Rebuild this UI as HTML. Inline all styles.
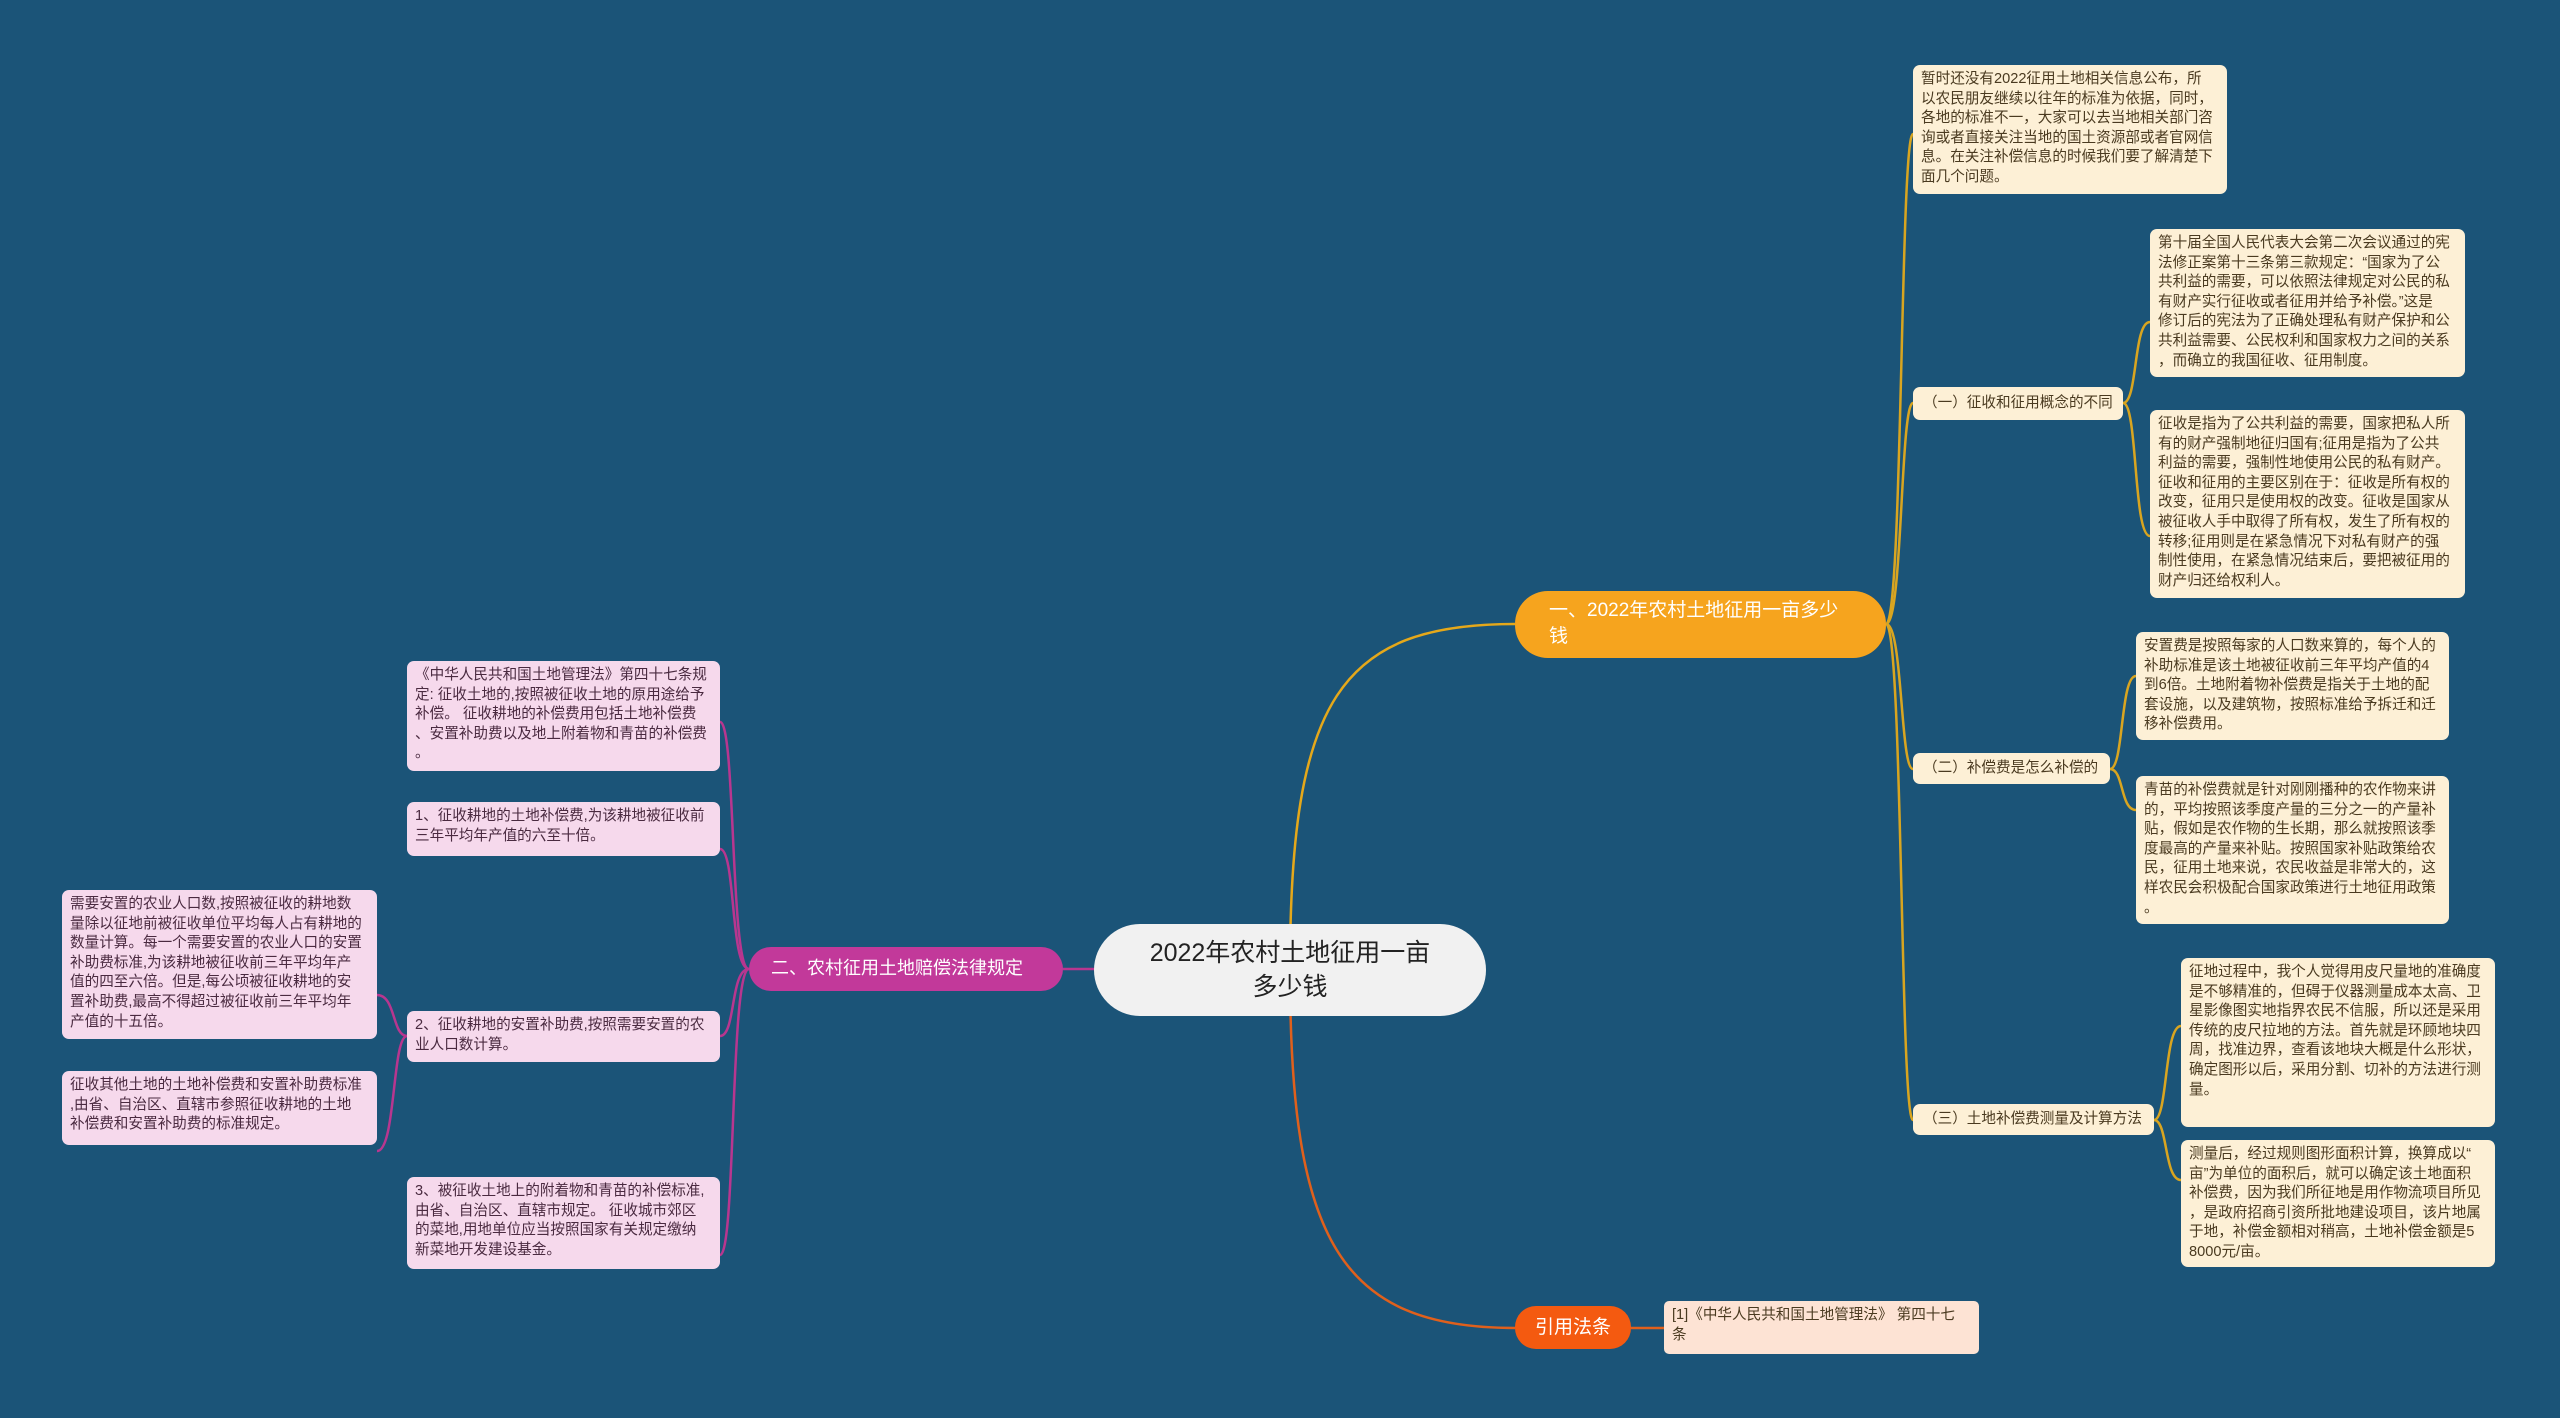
<!DOCTYPE html>
<html><head><meta charset="utf-8"><style>
body{margin:0;width:2560px;height:1418px;background:#1b5478;position:relative;overflow:hidden;font-family:"Liberation Sans","Noto Sans CJK SC",sans-serif}
.n{position:absolute;box-sizing:border-box;border-radius:7px;font-size:14.6px;line-height:19.6px;padding:5px 8px;color:#4a3a20;white-space:nowrap}
.c{background:#fdf0d6}
.p{background:#f6d9ec;color:#4a2a40}
.lab{display:flex;align-items:center;padding:0 10px}
svg{position:absolute;left:0;top:0}
</style></head><body>
<svg width="2560" height="1418" fill="none" stroke-width="2.5">
<path d="M1290 970 C1290 700 1340 624 1515 624" stroke="#e5a81a"/>
<path d="M1290 970 C1290 1240 1340 1328 1515 1328" stroke="#e0601c"/>
<path d="M1290 969 H1063" stroke="#b8368f"/>
<path d="M1631 1328 H1664" stroke="#e0601c"/>
<g stroke="#d9a520">
<path d="M1886 624 C1903 624 1900 134 1913 134"/>
<path d="M1886 624 C1903 624 1900 403 1913 403"/>
<path d="M1886 624 C1903 624 1900 769 1913 769"/>
<path d="M1886 624 C1903 624 1900 1120 1913 1120"/>
<path d="M2123 403 C2138 403 2133 322 2150 322"/>
<path d="M2123 403 C2138 403 2133 536 2150 536"/>
<path d="M2110 769 C2124 769 2120 676 2136 676"/>
<path d="M2110 769 C2124 769 2120 810 2136 810"/>
<path d="M2154 1120 C2168 1120 2164 1026 2181 1026"/>
<path d="M2154 1120 C2168 1120 2164 1180 2181 1180"/>
</g>
<g stroke="#b8368f">
<path d="M749 969 C730 969 736 722 720 722"/>
<path d="M749 969 C730 969 736 849 720 849"/>
<path d="M749 969 C730 969 736 1036 720 1036"/>
<path d="M749 969 C730 969 736 1255 720 1255"/>
<path d="M407 1036 C392 1036 396 995 377 995"/>
<path d="M407 1036 C392 1036 396 1151 377 1151"/>
</g>
</svg>

<div class="n" style="left:1094px;top:924px;width:392px;height:92px;border-radius:46px;background:#f1f1f1;color:#222;font-size:25px;line-height:34px;text-align:center;padding-top:12px">2022年农村土地征用一亩<br>多少钱</div>
<div class="n" style="left:1515px;top:591px;width:371px;height:67px;border-radius:33px;background:#f6a41e;color:#fff;font-size:19px;line-height:26px;padding:7px 34px">一、2022年农村土地征用一亩多少<br>钱</div>
<div class="n lab" style="left:749px;top:947px;width:314px;height:44px;border-radius:22px;background:#c2399a;color:#fff;font-size:18px;padding-left:22px">二、农村征用土地赔偿法律规定</div>
<div class="n lab" style="left:1515px;top:1306px;width:116px;height:43px;border-radius:21px;background:#f45a10;color:#fff;font-size:19px;justify-content:center">引用法条</div>
<div class="n" style="left:1664px;top:1301px;width:315px;height:53px;background:#fde3d4;border-radius:5px">[1]《中华人民共和国土地管理法》 第四十七<br>条</div>

<div class="n c" style="left:1913px;top:65px;width:314px;height:129px">暂时还没有2022征用土地相关信息公布，所<br>以农民朋友继续以往年的标准为依据，同时，<br>各地的标准不一，大家可以去当地相关部门咨<br>询或者直接关注当地的国土资源部或者官网信<br>息。在关注补偿信息的时候我们要了解清楚下<br>面几个问题。</div>
<div class="n c lab" style="left:1913px;top:387px;width:210px;height:33px">（一）征收和征用概念的不同</div>
<div class="n c" style="left:2150px;top:229px;width:315px;height:148px">第十届全国人民代表大会第二次会议通过的宪<br>法修正案第十三条第三款规定：“国家为了公<br>共利益的需要，可以依照法律规定对公民的私<br>有财产实行征收或者征用并给予补偿。”这是<br>修订后的宪法为了正确处理私有财产保护和公<br>共利益需要、公民权利和国家权力之间的关系<br>，而确立的我国征收、征用制度。</div>
<div class="n c" style="left:2150px;top:410px;width:315px;height:188px">征收是指为了公共利益的需要，国家把私人所<br>有的财产强制地征归国有;征用是指为了公共<br>利益的需要，强制性地使用公民的私有财产。<br>征收和征用的主要区别在于：征收是所有权的<br>改变，征用只是使用权的改变。征收是国家从<br>被征收人手中取得了所有权，发生了所有权的<br>转移;征用则是在紧急情况下对私有财产的强<br>制性使用，在紧急情况结束后，要把被征用的<br>财产归还给权利人。</div>
<div class="n c lab" style="left:1913px;top:753px;width:197px;height:31px">（二）补偿费是怎么补偿的</div>
<div class="n c" style="left:2136px;top:632px;width:313px;height:108px">安置费是按照每家的人口数来算的，每个人的<br>补助标准是该土地被征收前三年平均产值的4<br>到6倍。土地附着物补偿费是指关于土地的配<br>套设施，以及建筑物，按照标准给予拆迁和迁<br>移补偿费用。</div>
<div class="n c" style="left:2136px;top:776px;width:313px;height:148px">青苗的补偿费就是针对刚刚播种的农作物来讲<br>的，平均按照该季度产量的三分之一的产量补<br>贴，假如是农作物的生长期，那么就按照该季<br>度最高的产量来补贴。按照国家补贴政策给农<br>民，征用土地来说，农民收益是非常大的，这<br>样农民会积极配合国家政策进行土地征用政策<br>。</div>
<div class="n c lab" style="left:1913px;top:1104px;width:241px;height:31px">（三）土地补偿费测量及计算方法</div>
<div class="n c" style="left:2181px;top:958px;width:314px;height:169px">征地过程中，我个人觉得用皮尺量地的准确度<br>是不够精准的，但碍于仪器测量成本太高、卫<br>星影像图实地指界农民不信服，所以还是采用<br>传统的皮尺拉地的方法。首先就是环顾地块四<br>周，找准边界，查看该地块大概是什么形状，<br>确定图形以后，采用分割、切补的方法进行测<br>量。</div>
<div class="n c" style="left:2181px;top:1140px;width:314px;height:127px">测量后，经过规则图形面积计算，换算成以“<br>亩”为单位的面积后，就可以确定该土地面积<br>补偿费，因为我们所征地是用作物流项目所见<br>，是政府招商引资所批地建设项目，该片地属<br>于地，补偿金额相对稍高，土地补偿金额是5<br>8000元/亩。</div>

<div class="n p" style="left:407px;top:661px;width:313px;height:110px">《中华人民共和国土地管理法》第四十七条规<br>定: 征收土地的,按照被征收土地的原用途给予<br>补偿。 征收耕地的补偿费用包括土地补偿费<br>、安置补助费以及地上附着物和青苗的补偿费<br>。</div>
<div class="n p" style="left:407px;top:802px;width:313px;height:54px">1、征收耕地的土地补偿费,为该耕地被征收前<br>三年平均年产值的六至十倍。</div>
<div class="n p" style="left:407px;top:1011px;width:313px;height:51px">2、征收耕地的安置补助费,按照需要安置的农<br>业人口数计算。</div>
<div class="n p" style="left:407px;top:1177px;width:313px;height:92px">3、被征收土地上的附着物和青苗的补偿标准,<br>由省、自治区、直辖市规定。 征收城市郊区<br>的菜地,用地单位应当按照国家有关规定缴纳<br>新菜地开发建设基金。</div>
<div class="n p" style="left:62px;top:890px;width:315px;height:149px">需要安置的农业人口数,按照被征收的耕地数<br>量除以征地前被征收单位平均每人占有耕地的<br>数量计算。每一个需要安置的农业人口的安置<br>补助费标准,为该耕地被征收前三年平均年产<br>值的四至六倍。但是,每公顷被征收耕地的安<br>置补助费,最高不得超过被征收前三年平均年<br>产值的十五倍。</div>
<div class="n p" style="left:62px;top:1071px;width:315px;height:74px">征收其他土地的土地补偿费和安置补助费标准<br>,由省、自治区、直辖市参照征收耕地的土地<br>补偿费和安置补助费的标准规定。</div>
</body></html>
